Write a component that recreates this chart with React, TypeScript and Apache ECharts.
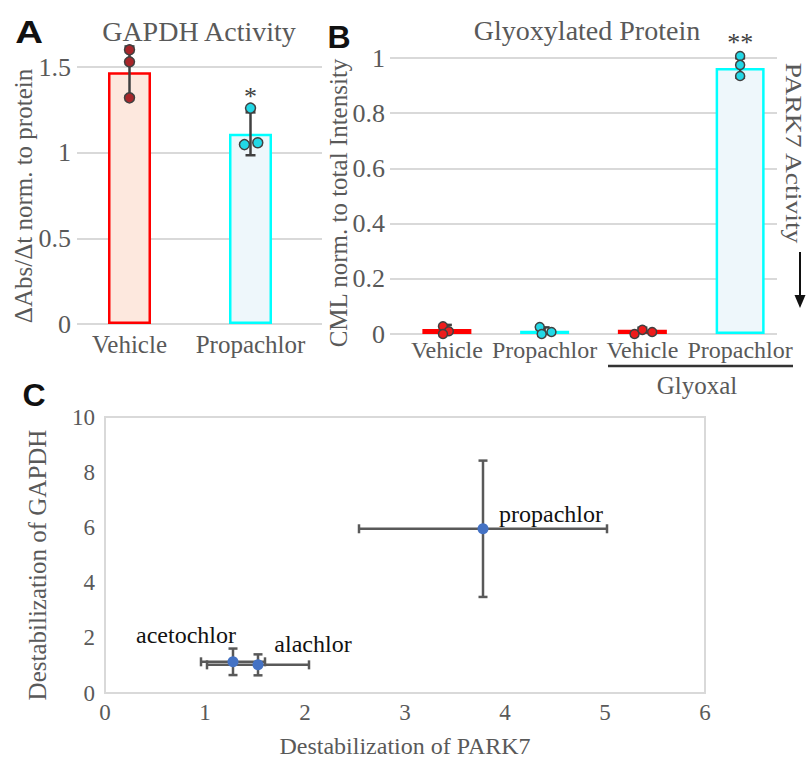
import React, { useEffect, useRef } from 'react';
import * as echarts from 'echarts';

const SERIF = "'Liberation Serif', 'Times New Roman', serif";
const SANS = "'Liberation Sans', Arial, sans-serif";
const GREY = '#595959';

// ---------- Panel A: GAPDH Activity ----------
const catsA = ['Vehicle', 'Propachlor'];
const barsA = [1.47, 1.11];
const errA = [0.15, 0.125];
const sigA = ['', '*'];
const vehicleDotsA = [[0, 1.6], [0, 1.53], [0, 1.32]];
const propDotsA = [[1.0, 1.26], [0.95, 1.047], [1.06, 1.058]];

// ---------- Panel B: Glyoxylated Protein ----------
const catsB = ['Vehicle', 'Propachlor', 'Vehicle', 'Propachlor'];
const barsB = [0.018, 0.012, 0.015, 0.964];
const errB = [0.015, 0.012, 0.008, 0.035];
const sigB = ['', '', '', '**'];
const vehicleDotsB = [[-0.04, 0.028], [0.02, 0.01], [-0.04, 0.0], [1.92, 0.0], [2.0, 0.015], [2.1, 0.007]];
const propDotsB = [[0.95, 0.025], [0.97, 0.0], [1.07, 0.007], [3.0, 1.007], [3.0, 0.975], [3.0, 0.935]];

// ---------- Panel C: scatter ----------
const compounds = ['acetochlor', 'alachlor', 'propachlor'];
const park7 = [1.28, 1.53, 3.78];
const gapdh = [1.13, 1.02, 5.95];
const park7Err = [0.32, 0.51, 1.24];
const gapdhErr = [0.48, 0.38, 2.47];

const labelOffsets: Record<string, number[]> = {
  acetochlor: [-47, -4],
  alachlor: [55, 2],
  propachlor: [68, 8],
};

const redBar = { color: '#fde8de', borderColor: '#ff0000', borderWidth: 2.5 };
const cyanBar = { color: '#eef7fb', borderColor: '#00ffff', borderWidth: 2.5 };

function txt(extra: any) {
  return {
    type: 'text',
    silent: true,
    ...extra,
    style: {
      fontFamily: SERIF,
      fill: GREY,
      align: 'center',
      verticalAlign: 'middle',
      textAlign: 'center',
      textVerticalAlign: 'middle',
      ...extra.style,
    },
  };
}

function makeVErr(sig: string[], fontSize: number) {
  return (params: any, api: any) => {
    const x = api.value(0);
    const y = api.value(1);
    const e = api.value(2);
    const top = api.coord([x, y + e]);
    const bot = api.coord([x, y - e]);
    const c = 5;
    const st = { stroke: '#404040', lineWidth: 2.5 };
    const children: any[] = [
      { type: 'line', shape: { x1: top[0], y1: top[1], x2: bot[0], y2: bot[1] }, style: st },
      { type: 'line', shape: { x1: top[0] - c, y1: top[1], x2: top[0] + c, y2: top[1] }, style: st },
      { type: 'line', shape: { x1: bot[0] - c, y1: bot[1], x2: bot[0] + c, y2: bot[1] }, style: st },
    ];
    const s = sig[params.dataIndex];
    if (s) {
      children.push({
        type: 'text',
        x: top[0],
        y: top[1] - 16,
        style: {
          text: s,
          fontFamily: SERIF,
          fontSize,
          fill: '#404040',
          align: 'center',
          verticalAlign: 'middle',
          textAlign: 'center',
          textVerticalAlign: 'middle',
        },
      });
    }
    return { type: 'group', children };
  };
}

function xyErr(params: any, api: any) {
  const x = api.value(0);
  const y = api.value(1);
  const xe = api.value(2);
  const ye = api.value(3);
  const l = api.coord([x - xe, y]);
  const r = api.coord([x + xe, y]);
  const t = api.coord([x, y + ye]);
  const b = api.coord([x, y - ye]);
  const c = 4.5;
  const st = { stroke: GREY, lineWidth: 2.5 };
  const ln = (x1: number, y1: number, x2: number, y2: number) => ({
    type: 'line',
    shape: { x1, y1, x2, y2 },
    style: st,
  });
  return {
    type: 'group',
    children: [
      ln(l[0], l[1], r[0], r[1]),
      ln(l[0], l[1] - c, l[0], l[1] + c),
      ln(r[0], r[1] - c, r[0], r[1] + c),
      ln(t[0], t[1], b[0], b[1]),
      ln(t[0] - c, t[1], t[0] + c, t[1]),
      ln(b[0] - c, b[1], b[0] + c, b[1]),
    ],
  };
}

const splitLine = { show: true, lineStyle: { color: '#d9d9d9', width: 2 } };
const hiddenValue = (grid: number, min: number, max: number) => ({
  type: 'value',
  gridIndex: grid,
  min,
  max,
  show: false,
});

function buildOption(): any {
  return {
    animation: false,
    backgroundColor: '#ffffff',
    textStyle: { fontFamily: SERIF },
    grid: [
      { left: 77, top: 67, width: 245, height: 257 },
      { left: 69, top: 67, width: 242, height: 257 },
      { left: 390, top: 58, width: 387, height: 276 },
      { left: 398, top: 58, width: 391, height: 276 },
      {
        left: 105,
        top: 417,
        width: 600,
        height: 276,
        show: true,
        borderColor: '#d9d9d9',
        borderWidth: 2,
        backgroundColor: 'transparent',
      },
    ],
    xAxis: [
      hiddenValue(0, 0, 1),
      {
        type: 'category',
        gridIndex: 1,
        data: catsA,
        axisLine: { show: false },
        axisTick: { show: false },
        axisLabel: { interval: 0, color: GREY, fontSize: 25, fontFamily: SERIF, margin: 8 },
      },
      hiddenValue(1, -0.5, 1.5),
      hiddenValue(2, 0, 1),
      {
        type: 'category',
        gridIndex: 3,
        data: catsB,
        axisLine: { show: false },
        axisTick: { show: false },
        axisLabel: {
          interval: 0,
          color: GREY,
          fontSize: 24,
          fontFamily: SERIF,
          margin: 4,
          formatter: (_v: string, i: number) => catsB[i],
        },
      },
      hiddenValue(3, -0.5, 3.5),
      {
        type: 'value',
        gridIndex: 4,
        min: 0,
        max: 6,
        interval: 1,
        axisLine: { show: false },
        axisTick: { show: false },
        splitLine: { show: false },
        axisLabel: { color: GREY, fontSize: 23, fontFamily: SERIF, margin: 8 },
        name: 'Destabilization of PARK7',
        nameLocation: 'middle',
        nameGap: 41,
        nameTextStyle: { color: GREY, fontSize: 24, fontFamily: SERIF },
      },
    ],
    yAxis: [
      {
        type: 'value',
        gridIndex: 0,
        min: 0,
        max: 1.5,
        interval: 0.5,
        axisLine: { show: false },
        axisTick: { show: false },
        splitLine,
        axisLabel: { color: GREY, fontSize: 26, fontFamily: SERIF, margin: 6 },
      },
      hiddenValue(1, 0, 1.5),
      {
        type: 'value',
        gridIndex: 2,
        min: 0,
        max: 1,
        interval: 0.2,
        axisLine: { show: false },
        axisTick: { show: false },
        splitLine,
        axisLabel: { color: GREY, fontSize: 26, fontFamily: SERIF, margin: 5 },
      },
      hiddenValue(3, 0, 1),
      {
        type: 'value',
        gridIndex: 4,
        min: 0,
        max: 10,
        interval: 2,
        axisLine: { show: false },
        axisTick: { show: false },
        splitLine: { show: false },
        axisLabel: { color: GREY, fontSize: 23, fontFamily: SERIF, margin: 10 },
      },
    ],
    series: [
      // Panel A
      {
        type: 'bar',
        xAxisIndex: 1,
        yAxisIndex: 1,
        barWidth: 43,
        data: barsA.map((v, i) => ({ value: v, itemStyle: i % 2 === 0 ? redBar : cyanBar })),
      },
      {
        type: 'custom',
        xAxisIndex: 2,
        yAxisIndex: 1,
        clip: false,
        z: 3,
        renderItem: makeVErr(sigA, 26),
        data: barsA.map((v, i) => [i, v, errA[i]]),
      },
      {
        type: 'scatter',
        xAxisIndex: 2,
        yAxisIndex: 1,
        clip: false,
        z: 4,
        symbolSize: 10,
        itemStyle: { color: '#a8262a', borderColor: '#404040', borderWidth: 1.5, opacity: 1 },
        data: vehicleDotsA,
      },
      {
        type: 'scatter',
        xAxisIndex: 2,
        yAxisIndex: 1,
        clip: false,
        z: 4,
        symbolSize: 10,
        itemStyle: { color: '#22d8e6', borderColor: '#404040', borderWidth: 1.5, opacity: 1 },
        data: propDotsA,
      },
      // Panel B
      {
        type: 'bar',
        xAxisIndex: 4,
        yAxisIndex: 3,
        barWidth: 49,
        data: barsB.map((v, i) => ({ value: v, itemStyle: i % 2 === 0 ? redBar : cyanBar })),
      },
      {
        type: 'custom',
        xAxisIndex: 5,
        yAxisIndex: 3,
        clip: false,
        z: 3,
        renderItem: makeVErr(sigB, 26),
        data: barsB.map((v, i) => [i, v, errB[i]]),
      },
      {
        type: 'scatter',
        xAxisIndex: 5,
        yAxisIndex: 3,
        clip: false,
        z: 4,
        symbolSize: 9,
        itemStyle: { color: '#ee1c1c', borderColor: '#404040', borderWidth: 1.5, opacity: 1 },
        data: vehicleDotsB,
      },
      {
        type: 'scatter',
        xAxisIndex: 5,
        yAxisIndex: 3,
        clip: false,
        z: 4,
        symbolSize: 9,
        itemStyle: { color: '#22d8e6', borderColor: '#404040', borderWidth: 1.5, opacity: 1 },
        data: propDotsB,
      },
      // Panel C
      {
        type: 'custom',
        xAxisIndex: 6,
        yAxisIndex: 4,
        clip: false,
        z: 3,
        renderItem: xyErr,
        data: compounds.map((_c, i) => [park7[i], gapdh[i], park7Err[i], gapdhErr[i]]),
      },
      {
        type: 'scatter',
        xAxisIndex: 6,
        yAxisIndex: 4,
        clip: false,
        z: 4,
        symbolSize: 11,
        itemStyle: { color: '#4472c4', opacity: 1 },
        data: compounds.map((c, i) => ({
          name: c,
          value: [park7[i], gapdh[i]],
          label: {
            show: true,
            position: 'top',
            offset: labelOffsets[c],
            formatter: c,
            color: '#111111',
            fontSize: 24,
            fontFamily: SERIF,
          },
        })),
      },
    ],
    graphic: [
      // panel letters
      txt({ x: 29, y: 32, scaleX: 1.2, style: { text: 'A', fontFamily: SANS, fontWeight: 'bold', fontSize: 32, fill: '#111' } }),
      txt({ x: 339, y: 37, style: { text: 'B', fontFamily: SANS, fontWeight: 'bold', fontSize: 32, fill: '#111' } }),
      txt({ x: 34, y: 395, style: { text: 'C', fontFamily: SANS, fontWeight: 'bold', fontSize: 32, fill: '#111' } }),
      // titles
      txt({ x: 199, y: 31, style: { text: 'GAPDH Activity', fontSize: 28 } }),
      txt({ x: 587, y: 30, style: { text: 'Glyoxylated Protein', fontSize: 28 } }),
      // y axis names
      txt({ x: 23, y: 196, rotation: Math.PI / 2, style: { text: 'ΔAbs/Δt norm. to protein', fontSize: 25 } }),
      txt({ x: 338, y: 203, rotation: Math.PI / 2, style: { text: 'CML norm. to total Intensity', fontSize: 25 } }),
      txt({ x: 37, y: 565, rotation: Math.PI / 2, style: { text: 'Destabilization of GAPDH', fontSize: 25 } }),
      // PARK7 activity annotation
      txt({ x: 794, y: 153, rotation: -Math.PI / 2, scaleX: 1.15, style: { text: 'PARK7 Activity', fontSize: 24 } }),
      {
        type: 'line',
        silent: true,
        shape: { x1: 800, y1: 252, x2: 800, y2: 299 },
        style: { stroke: '#111', lineWidth: 2 },
      },
      {
        type: 'polygon',
        silent: true,
        shape: { points: [[794.5, 295], [805.5, 295], [800, 308]] },
        style: { fill: '#111' },
      },
      // Glyoxal bracket
      {
        type: 'line',
        silent: true,
        shape: { x1: 608, y1: 366, x2: 793, y2: 366 },
        style: { stroke: '#333', lineWidth: 2.5 },
      },
      txt({ x: 697, y: 385, style: { text: 'Glyoxal', fontSize: 25 } }),
    ],
  };
}

export default function App() {
  const ref = useRef<HTMLDivElement>(null);
  useEffect(() => {
    if (!ref.current) return;
    const chart = echarts.init(ref.current, undefined, { renderer: 'svg' });
    chart.setOption(buildOption());
    return () => chart.dispose();
  }, []);
  return (
    <div
      ref={ref}
      style={{ position: 'absolute', left: 0, top: 0, width: 808, height: 762, background: '#fff' }}
    />
  );
}
